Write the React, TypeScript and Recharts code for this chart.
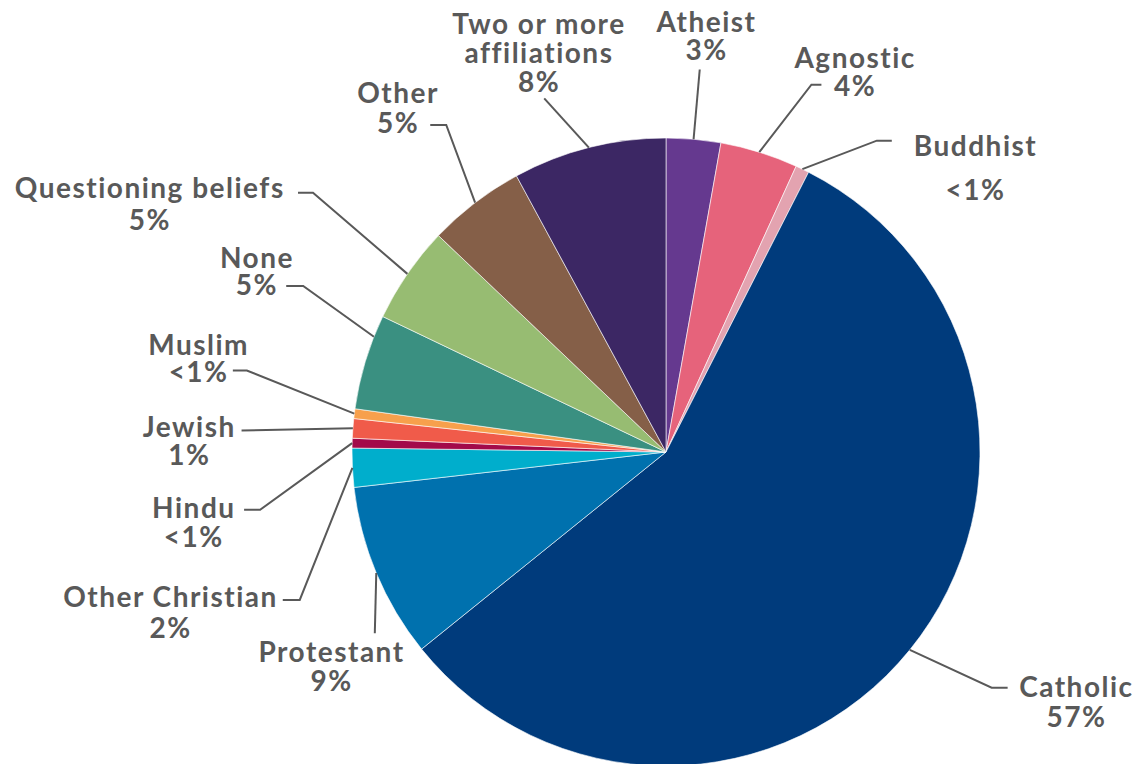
import React from "react";
import { PieChart, Pie, Cell } from "recharts";

const categories = [
  "Atheist",
  "Agnostic",
  "Buddhist",
  "Catholic",
  "Protestant",
  "Other Christian",
  "Hindu",
  "Jewish",
  "Muslim",
  "None",
  "Questioning beliefs",
  "Other",
  "Two or more affiliations",
];

const values = [2.8, 4.0, 0.7, 56.7, 9.0, 2.0, 0.5, 1.0, 0.5, 4.9, 5.0, 5.0, 7.9];

const valueLabels = ["3%", "4%", "<1%", "57%", "9%", "2%", "<1%", "1%", "<1%", "5%", "5%", "5%", "8%"];

const labelLines: string[][] = [
  ["Atheist"],
  ["Agnostic"],
  ["Buddhist"],
  ["Catholic"],
  ["Protestant"],
  ["Other Christian"],
  ["Hindu"],
  ["Jewish"],
  ["Muslim"],
  ["None"],
  ["Questioning beliefs"],
  ["Other"],
  ["Two or more", "affiliations"],
];

const colors = [
  "#65398F",
  "#E6637B",
  "#E3A3B0",
  "#003B7C",
  "#0071AE",
  "#00AECC",
  "#A30A4A",
  "#F05B4A",
  "#F7A04C",
  "#3A9081",
  "#97BC72",
  "#855F48",
  "#3C2764",
];

// Leader-line / label layout (style parameters, relative to the pie geometry)
const layout = [
  { startShift: 0, elbowR: 384, elbowAng: null, hLen: 0, tdx: 6, tdy: -37, gap: 28 },
  { startShift: 0, elbowR: 395, elbowAng: 21.6, hLen: 10, tdx: 33, tdy: -17, gap: 28 },
  { startShift: 0, elbowR: 376, elbowAng: 34.1, hLen: 15, tdx: 83, tdy: 15, gap: 44 },
  { startShift: 0, elbowR: 402, elbowAng: 125.9, hLen: 16, tdx: 68, tdy: 9, gap: 30 },
  { startShift: 0, elbowR: 343, elbowAng: 238.1, hLen: 0, tdx: -44, tdy: 29, gap: 29 },
  { startShift: 0, elbowR: 395, elbowAng: 248, hLen: -17, tdx: -113, tdy: 7, gap: 31 },
  { startShift: 0, elbowR: 410, elbowAng: 261.9, hLen: -16, tdx: -51, tdy: 8, gap: 29 },
  { startShift: 0, elbowR: 425, elbowAng: 272.9, hLen: 0, tdx: -53, tdy: 7, gap: 27.5 },
  { startShift: 0, elbowR: 427, elbowAng: 281, hLen: -14, tdx: -35, tdy: -16, gap: 27.5 },
  { startShift: 4.8, elbowR: 399, elbowAng: 294.6, hLen: -17, tdx: -30, tdy: -18, gap: 27.5 },
  { startShift: 0, elbowR: 438, elbowAng: 306.3, hLen: -15, tdx: -149, tdy: 5, gap: 32.5 },
  { startShift: 0, elbowR: 394, elbowAng: 326.1, hLen: -16, tdx: -33, tdy: -22, gap: 30 },
  { startShift: 0, elbowR: 374, elbowAng: 341, hLen: 0, tdx: -6, tdy: -64, gap: 28.7 },
];

const data = categories.map((name, i) => ({ name, value: values[i] }));

const TEXT_COLOR = "#595959";
const FONT = "Lato, 'Open Sans', sans-serif";

const polar = (cx: number, cy: number, r: number, cwDeg: number) => {
  const a = (cwDeg * Math.PI) / 180;
  return { x: cx + r * Math.sin(a), y: cy - r * Math.cos(a) };
};

const renderLabel = (props: any) => {
  const { cx, cy, midAngle, outerRadius, index } = props;
  const L = layout[index];
  const midCw = 90 - midAngle;
  const start = polar(cx, cy, outerRadius, midCw + L.startShift);
  const elbow = polar(cx, cy, L.elbowR, L.elbowAng === null ? midCw : L.elbowAng);
  const end = { x: elbow.x + L.hLen, y: elbow.y };
  const lines = [...labelLines[index], valueLabels[index]];
  const tx = end.x + L.tdx;
  return (
    <g key={`lbl-${index}`}>
      <polyline
        points={`${start.x},${start.y} ${elbow.x},${elbow.y} ${end.x},${end.y}`}
        fill="none"
        stroke={TEXT_COLOR}
        strokeWidth={2}
      />
      <text
        textAnchor="middle"
        fill={TEXT_COLOR}
        fontFamily={FONT}
        fontWeight={700}
        fontSize={28}
        letterSpacing={1.5}
      >
        {lines.map((t, i) => (
          <tspan key={i} x={tx + 0.75} y={end.y + L.tdy + i * L.gap}>
            {t}
          </tspan>
        ))}
      </text>
    </g>
  );
};

export default function App() {
  return (
    <div style={{ position: "absolute", left: 0, top: 0, width: 1138, height: 764, background: "#fff" }}>
      <PieChart width={1138} height={764} margin={{ top: 0, right: 0, bottom: 0, left: 0 }}>
        <Pie
          data={data}
          dataKey="value"
          nameKey="name"
          cx={666}
          cy={452}
          outerRadius={314}
          startAngle={90}
          endAngle={-270}
          stroke="#ffffff"
          strokeWidth={0.6}
          label={renderLabel}
          labelLine={false}
          isAnimationActive={false}
        >
          {data.map((d, i) => (
            <Cell key={d.name} fill={colors[i]} />
          ))}
        </Pie>
      </PieChart>
    </div>
  );
}
